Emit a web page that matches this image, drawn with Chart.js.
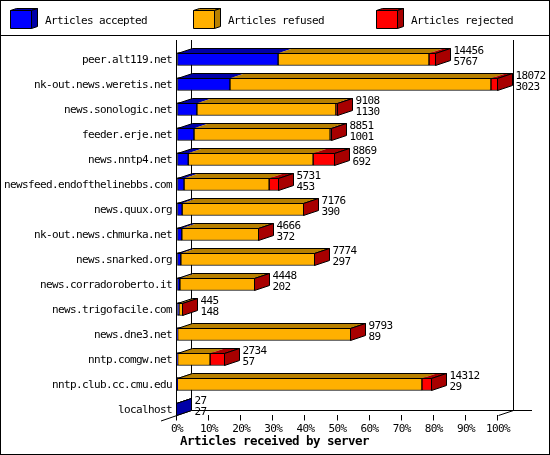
<!DOCTYPE html>
<html><head><meta charset="utf-8">
<script src="https://cdn.jsdelivr.net/npm/chart.js@4"></script>
<style>html,body{margin:0;padding:0;background:#fff;overflow:hidden}canvas{display:block}</style>
</head><body><canvas id="c" width="550" height="455"></canvas>
<script>
const categories = ["peer.alt119.net","nk-out.news.weretis.net","news.sonologic.net","feeder.erje.net","news.nntp4.net","newsfeed.endofthelinebbs.com","news.quux.org","nk-out.news.chmurka.net","news.snarked.org","news.corradoroberto.it","news.trigofacile.com","news.dne3.net","nntp.comgw.net","nntp.club.cc.cmu.edu","localhost"];
const accepted = [31.5,16.5,6.2,5.3,3.5,2.2,1.6,1.5,1.2,0.9,0.6,0.2,0.2,0.1,0];
const refused = [47,81.3,43.3,42.4,38.9,26.5,38,24,41.8,23.4,1.4,54,10.1,76.2,0];
const rejected = [2.2,2.2,0.7,0.6,6.8,3.1,0,0,0,0,0,0,4.7,3.1,0];
const topLabels = ["14456","18072","9108","8851","8869","5731","7176","4666","7774","4448","445","9793","2734","14312","27"];
const bottomLabels = ["5767","3023","1130","1001","692","453","390","372","297","202","148","89","57","29","27"];
const seriesNames = ["Articles accepted","Articles refused","Articles rejected"];
const fronts = ["#0000ff","#ffb000","#ff0000"];
const darks = ["#0000a8","#b88000","#a80000"];
const xTitle = "Articles received by server";
const DX=15, DY=5;
const FONT="11px 'DejaVu Sans Mono'";
const SPACING="-0.62px";

function poly(ctx,pts,fill,stroke){
  ctx.beginPath();pts.forEach((p,i)=>i?ctx.lineTo(p[0],p[1]):ctx.moveTo(p[0],p[1]));ctx.closePath();
  if(fill){ctx.fillStyle=fill;ctx.fill();}
  if(stroke){ctx.strokeStyle="#000";ctx.lineWidth=1;ctx.stroke();}
}
function line(ctx,a,b,c,d){ctx.beginPath();ctx.moveTo(a,b);ctx.lineTo(c,d);ctx.strokeStyle="#000";ctx.lineWidth=1;ctx.stroke();}

const frame = {
  id:"frame",
  afterLayout(chart){
    chart.scales.y.getLabelItems().forEach(it=>{it.options.translation[1]+=1;});
  },
  beforeDraw(chart){ chart.ctx.letterSpacing=SPACING; },
  beforeDatasetsDraw(chart){
    const ctx=chart.ctx,x=chart.scales.x;
    ctx.save();
    ctx.strokeStyle="#000";ctx.lineWidth=1;
    ctx.strokeRect(0.5,0.5,549,454);
    line(ctx,0,35.5,550,35.5);
    const l=Math.round(x.getPixelForValue(0))-0.5, r=Math.round(x.getPixelForValue(100))+0.5;
    line(ctx,l,40,l,415.5);
    line(ctx,l+DX,40,l+DX,410.5);
    line(ctx,r+DX,40,r+DX,410.5);
    line(ctx,l+DX,410.5,532,410.5);
    line(ctx,161,421,l+DX,410.5);
    line(ctx,r,415.5,r+DX,410.5);
    x.ticks.forEach(t=>{const p=Math.round(x.getPixelForValue(t.value))-0.5;line(ctx,p,415,p,420.5);});
    seriesNames.forEach((n,i)=>{
      const bx=[10.5,193.5,376.5][i], tx=[45,228,411][i];
      poly(ctx,[[bx,10.5],[bx+6,8.5],[bx+27,8.5],[bx+21,10.5]],darks[i],true);
      poly(ctx,[[bx+21,10.5],[bx+27,8.5],[bx+27,26.5],[bx+21,28.5]],darks[i],true);
      poly(ctx,[[bx,10.5],[bx+21,10.5],[bx+21,28.5],[bx,28.5]],fronts[i],true);
      ctx.font=FONT;ctx.fillStyle="#000";ctx.textAlign="left";ctx.textBaseline="middle";
      ctx.fillText(n,tx,21);
    });
    ctx.font="bold 12.5px 'DejaVu Sans Mono'";ctx.letterSpacing="-0.53px";ctx.fillStyle="#000";ctx.textAlign="left";ctx.textBaseline="middle";
    ctx.fillText(xTitle,180,442);
    ctx.letterSpacing=SPACING;
    ctx.restore();
  },
  afterDatasetsDraw(chart){
    const ctx=chart.ctx;
    ctx.save();
    categories.forEach((c,i)=>{
      const total=chart.data.datasets.reduce((s,d)=>s+d.data[i],0);
      const first=chart.getDatasetMeta(0).data[i];
      const top=Math.round(first.y-first.height/2)+0.5, bot=top+12;
      let end=Math.round(first.base)-0.5;
      chart.data.datasets.forEach((d,k)=>{
        const el=chart.getDatasetMeta(k).data[i];
        if(d.data[i]>0){
          const a=Math.round(Math.min(el.base,el.x))-0.5, b=Math.round(Math.max(el.base,el.x))-0.5;
          poly(ctx,[[a,top],[a+DX,top-DY],[b+DX,top-DY],[b,top]],darks[k],false);
          end=b;
        }
      });
      const start=Math.round(first.base)-0.5;
      poly(ctx,[[start,top],[start+DX,top-DY],[end+DX,top-DY],[end,top]],null,true);
      poly(ctx,[[end,top],[end+DX,top-DY],[end+DX,bot-DY],[end,bot]],total>0?darks[2]:darks[0],true);
      ctx.font=FONT;ctx.fillStyle="#000";ctx.textAlign="left";ctx.textBaseline="middle";
      const cy=top+7;
      ctx.fillText(topLabels[i],end+DX+3,cy-9);
      ctx.fillText(bottomLabels[i],end+DX+3,cy+2);
    });
    ctx.restore();
  }
};

new Chart(document.getElementById("c"),{
  type:"bar",
  data:{labels:categories,datasets:[
    {label:seriesNames[0],data:accepted,backgroundColor:fronts[0]},
    {label:seriesNames[1],data:refused,backgroundColor:fronts[1]},
    {label:seriesNames[2],data:rejected,backgroundColor:fronts[2]}
  ].map(d=>Object.assign(d,{borderColor:"#000",borderWidth:1,barThickness:13,borderSkipped:false,clip:false}))},
  options:{
    indexAxis:"y",responsive:false,animation:false,
    layout:{padding:{top:46.5,right:52,bottom:0,left:0}},
    plugins:{legend:{display:false},tooltip:{enabled:false},title:{display:false}},
    scales:{
      x:{stacked:true,min:0,max:100,border:{display:false},
        grid:{drawOnChartArea:false,drawTicks:false},
        ticks:{stepSize:10,maxRotation:0,autoSkip:false,padding:1,color:"#000",font:{family:"DejaVu Sans Mono",size:11},callback:v=>v+"%"},
        afterFit(s){s.height=33.5;}},
      y:{stacked:true,border:{display:false},
        grid:{display:false,drawTicks:false},
        ticks:{autoSkip:false,padding:5,color:"#000",font:{family:"DejaVu Sans Mono",size:11}},
        afterFit(s){s.width=177;}}
    }
  },
  plugins:[frame]
});
</script></body></html>
